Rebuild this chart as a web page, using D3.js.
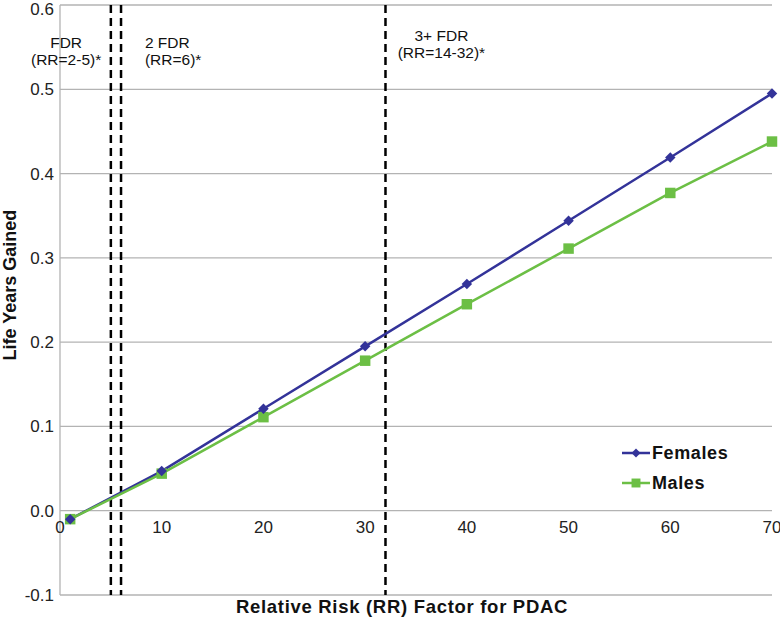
<!DOCTYPE html>
<html>
<head>
<meta charset="utf-8">
<script src="https://cdn.jsdelivr.net/npm/d3@7"></script>
<style>
  body { margin: 0; background: #fff; }
  text { font-family: "Liberation Sans", Arial, sans-serif; }
</style>
</head>
<body>
<svg width="780" height="622"></svg>
<script>
var rr = [1, 10, 20, 30, 40, 50, 60, 70];
var females = [-0.01, 0.047, 0.121, 0.195, 0.269, 0.344, 0.419, 0.495];
var males = [-0.01, 0.044, 0.111, 0.178, 0.245, 0.311, 0.377, 0.438];
var xTicks = [0, 10, 20, 30, 40, 50, 60, 70];
var yTicks = [-0.1, 0, 0.1, 0.2, 0.3, 0.4, 0.5, 0.6];
var yTickLabels = ["-0.1", "0.0", "0.1", "0.2", "0.3", "0.4", "0.5", "0.6"];
var cutoffs = [5, 6, 32];

var svg = d3.select("svg");

var x = d3.scaleLinear().domain([0, 70]).range([60, 772]),
    y = d3.scaleLinear().domain([-0.1, 0.6]).range([595, 5]);

// grid lines
svg.append("g").selectAll("line")
  .data(yTicks)
  .enter().append("line")
    .attr("x1", x(0)).attr("x2", x(70))
    .attr("y1", function(d) { return y(d); })
    .attr("y2", function(d) { return y(d); })
    .attr("stroke", "#b3b3b3").attr("stroke-width", 1.3);

// y axis line
svg.append("line")
  .attr("x1", x(0)).attr("x2", x(0))
  .attr("y1", y(0.6)).attr("y2", y(-0.1))
  .attr("stroke", "#b3b3b3").attr("stroke-width", 1.3);

// y tick labels (top one nudged down so it isn't clipped)
svg.append("g").selectAll("text")
  .data(yTicks)
  .enter().append("text")
    .attr("x", 54)
    .attr("y", function(d) { return Math.max(y(d), 9); })
    .attr("dy", "0.35em")
    .attr("text-anchor", "end")
    .attr("font-size", 17)
    .attr("fill", "#222")
    .text(function(d, i) { return yTickLabels[i]; });

// x tick labels, sitting under the zero line
svg.append("g").selectAll("text")
  .data(xTicks)
  .enter().append("text")
    .attr("x", function(d) { return x(d); })
    .attr("y", y(0) + 22)
    .attr("text-anchor", "middle")
    .attr("font-size", 17)
    .attr("fill", "#222")
    .text(function(d) { return d; });

// dashed cut-off lines
svg.append("g").selectAll("line")
  .data(cutoffs)
  .enter().append("line")
    .attr("x1", function(d) { return x(d); })
    .attr("x2", function(d) { return x(d); })
    .attr("y1", y(0.6)).attr("y2", y(-0.1))
    .attr("stroke", "#000").attr("stroke-width", 2.5)
    .attr("stroke-dasharray", "8,5");

// annotations
var notes = [
  {lines: ["FDR", "(RR=2-5)*"], x: 0.6, anchor: "middle", y: 48},
  {lines: ["2 FDR", "(RR=6)*"], x: 8.35, anchor: "start", y: 48},
  {lines: ["3+ FDR", "(RR=14-32)*"], x: 37.5, anchor: "middle", y: 41}
];
notes.forEach(function(n) {
  var t = svg.append("text")
    .attr("text-anchor", n.anchor)
    .attr("font-size", 15.5)
    .attr("fill", "#111");
  n.lines.forEach(function(l, i) {
    t.append("tspan").attr("x", x(n.x)).attr("y", n.y + i * 17).text(l);
  });
});

var line = d3.line()
  .x(function(d) { return x(d[0]); })
  .y(function(d) { return y(d[1]); });

var fColor = "#333399", mColor = "#6cbf45";

svg.append("path")
  .datum(d3.zip(rr, females))
  .attr("fill", "none").attr("stroke", fColor).attr("stroke-width", 2.5)
  .attr("d", line);

svg.append("path")
  .datum(d3.zip(rr, males))
  .attr("fill", "none").attr("stroke", mColor).attr("stroke-width", 2.5)
  .attr("d", line);

svg.append("g").selectAll("path")
  .data(d3.zip(rr, males))
  .enter().append("path")
    .attr("transform", function(d) { return "translate(" + x(d[0]) + "," + y(d[1]) + ")"; })
    .attr("d", d3.symbol().type(d3.symbolSquare).size(110))
    .attr("fill", mColor);

// diamonds: squares turned 45 degrees
svg.append("g").selectAll("path")
  .data(d3.zip(rr, females))
  .enter().append("path")
    .attr("transform", function(d) { return "translate(" + x(d[0]) + "," + y(d[1]) + ") rotate(45)"; })
    .attr("d", d3.symbol().type(d3.symbolSquare).size(55))
    .attr("fill", fColor);

// legend
var legend = [
  {name: "Females", color: fColor, rot: 45, size: 40},
  {name: "Males", color: mColor, rot: 0, size: 80}
];
legend.forEach(function(l, i) {
  var ly = 453 + i * 30;
  svg.append("line")
    .attr("x1", 622).attr("x2", 650)
    .attr("y1", ly).attr("y2", ly)
    .attr("stroke", l.color).attr("stroke-width", 2.5);
  svg.append("path")
    .attr("transform", "translate(636," + ly + ") rotate(" + l.rot + ")")
    .attr("d", d3.symbol().type(d3.symbolSquare).size(l.size))
    .attr("fill", l.color);
  svg.append("text")
    .attr("x", 652).attr("y", ly)
    .attr("dy", "0.35em")
    .attr("font-size", 18).attr("font-weight", "bold")
    .attr("letter-spacing", 0.6)
    .attr("fill", "#111")
    .text(l.name);
});

// axis titles
svg.append("text")
  .attr("transform", "translate(16,285) rotate(-90)")
  .attr("text-anchor", "middle")
  .attr("font-size", 18).attr("font-weight", "bold")
  .attr("fill", "#111")
  .text("Life Years Gained");

svg.append("text")
  .attr("x", 402).attr("y", 613)
  .attr("text-anchor", "middle")
  .attr("font-size", 18.5).attr("font-weight", "bold")
  .attr("letter-spacing", 0.7)
  .attr("fill", "#111")
  .text("Relative Risk (RR) Factor for PDAC");
</script>
</body>
</html>
